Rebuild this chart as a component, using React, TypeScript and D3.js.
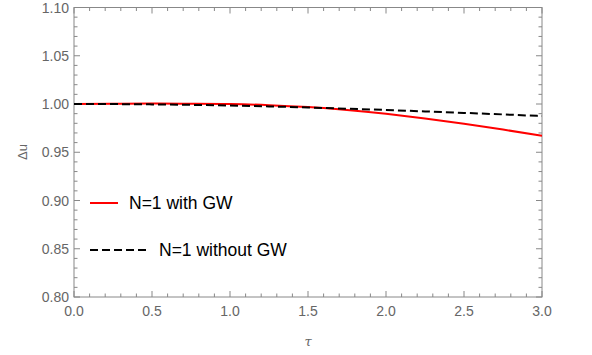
import React from "react";
import * as d3 from "d3";

const tau = [0, 0.25, 0.5, 0.75, 1.0, 1.25, 1.5, 1.75, 2.0, 2.25, 2.5, 2.75, 3.0];
const withGW = [1.0, 1.0002, 1.0004, 1.0003, 1.0, 0.9988, 0.9968, 0.9938, 0.9898, 0.985, 0.9795, 0.9735, 0.967];
const withoutGW = [1.0, 0.9999, 0.9996, 0.9991, 0.9984, 0.9975, 0.9964, 0.9951, 0.9938, 0.9923, 0.9908, 0.9892, 0.9875];
const xTicks = [0, 0.5, 1.0, 1.5, 2.0, 2.5, 3.0];
const yTicks = [0.8, 0.85, 0.9, 0.95, 1.0, 1.05, 1.1];
const legendLabels = ["N=1 with GW", "N=1 without GW"];

export default function App() {
  const W = 592, H = 355;
  const L = 74, R = 542, T = 7.5, B = 297;
  const x = d3.scaleLinear().domain([0, 3]).range([L, R]);
  const y = d3.scaleLinear().domain([0.8, 1.1]).range([B, T]);
  const line = d3.line<number>().x((_, i) => x(tau[i])).y((d) => y(d)).curve(d3.curveNatural);
  const xMinor = d3.range(0, 3.0001, 0.1);
  const yMinor = d3.range(0.8, 1.1001, 0.01);
  const axisColor = "#888";
  const labelColor = "#666";
  const font = "Arial, 'Liberation Sans', sans-serif";
  const isMajor = (v: number, step: number) => Math.abs(v / step - Math.round(v / step)) < 1e-6;
  return (
    <svg width={W} height={H} style={{ position: "absolute", left: 0, top: 0 }} fontFamily={font}>
      <rect width={W} height={H} fill="#fff" />
      <defs>
        <clipPath id="clip"><rect x={L} y={T} width={R - L} height={B - T} /></clipPath>
      </defs>
      <rect x={L} y={T} width={R - L} height={B - T} fill="none" stroke={axisColor} strokeWidth={1} />
      {xMinor.map((v, i) => {
        const len = isMajor(v, 0.5) ? 6 : 3.5;
        return (
          <g key={"xt" + i} stroke={axisColor} strokeWidth={1}>
            <line x1={x(v)} x2={x(v)} y1={B} y2={B - len} />
            <line x1={x(v)} x2={x(v)} y1={T} y2={T + len} />
          </g>
        );
      })}
      {yMinor.map((v, i) => {
        const len = isMajor(v, 0.05) ? 6 : 3.5;
        return (
          <g key={"yt" + i} stroke={axisColor} strokeWidth={1}>
            <line x1={L} x2={L + len} y1={y(v)} y2={y(v)} />
            <line x1={R} x2={R - len} y1={y(v)} y2={y(v)} />
          </g>
        );
      })}
      {xTicks.map((v) => (
        <text key={"xl" + v} x={x(v)} y={316} textAnchor="middle" fontSize={14} fill={labelColor}>
          {v.toFixed(1)}
        </text>
      ))}
      {yTicks.map((v) => (
        <text key={"yl" + v} x={L - 5} y={y(v) + 5} textAnchor="end" fontSize={14} fill={labelColor}>
          {v.toFixed(2)}
        </text>
      ))}
      <text x={308} y={346} textAnchor="middle" fontSize={13} fill={labelColor} fontStyle="italic" fontFamily="'DejaVu Serif', serif">τ</text>
      <text transform={`translate(27,152) rotate(-90)`} textAnchor="middle" fontSize={13} fill={labelColor}>Δu</text>
      <g clipPath="url(#clip)">
        <path d={line(withGW) || ""} fill="none" stroke="#ff0000" strokeWidth={2} />
        <path d={line(withoutGW) || ""} fill="none" stroke="#000" strokeWidth={2} strokeDasharray="8,4" />
      </g>
      <line x1={90} x2={118} y1={203} y2={203} stroke="#ff0000" strokeWidth={2} />
      <text x={129} y={209} fontSize={17.5} fill="#000">{legendLabels[0]}</text>
      <line x1={90} x2={147} y1={250} y2={250} stroke="#000" strokeWidth={2} strokeDasharray="8,4" />
      <text x={159} y={256} fontSize={17.5} fill="#000">{legendLabels[1]}</text>
    </svg>
  );
}
